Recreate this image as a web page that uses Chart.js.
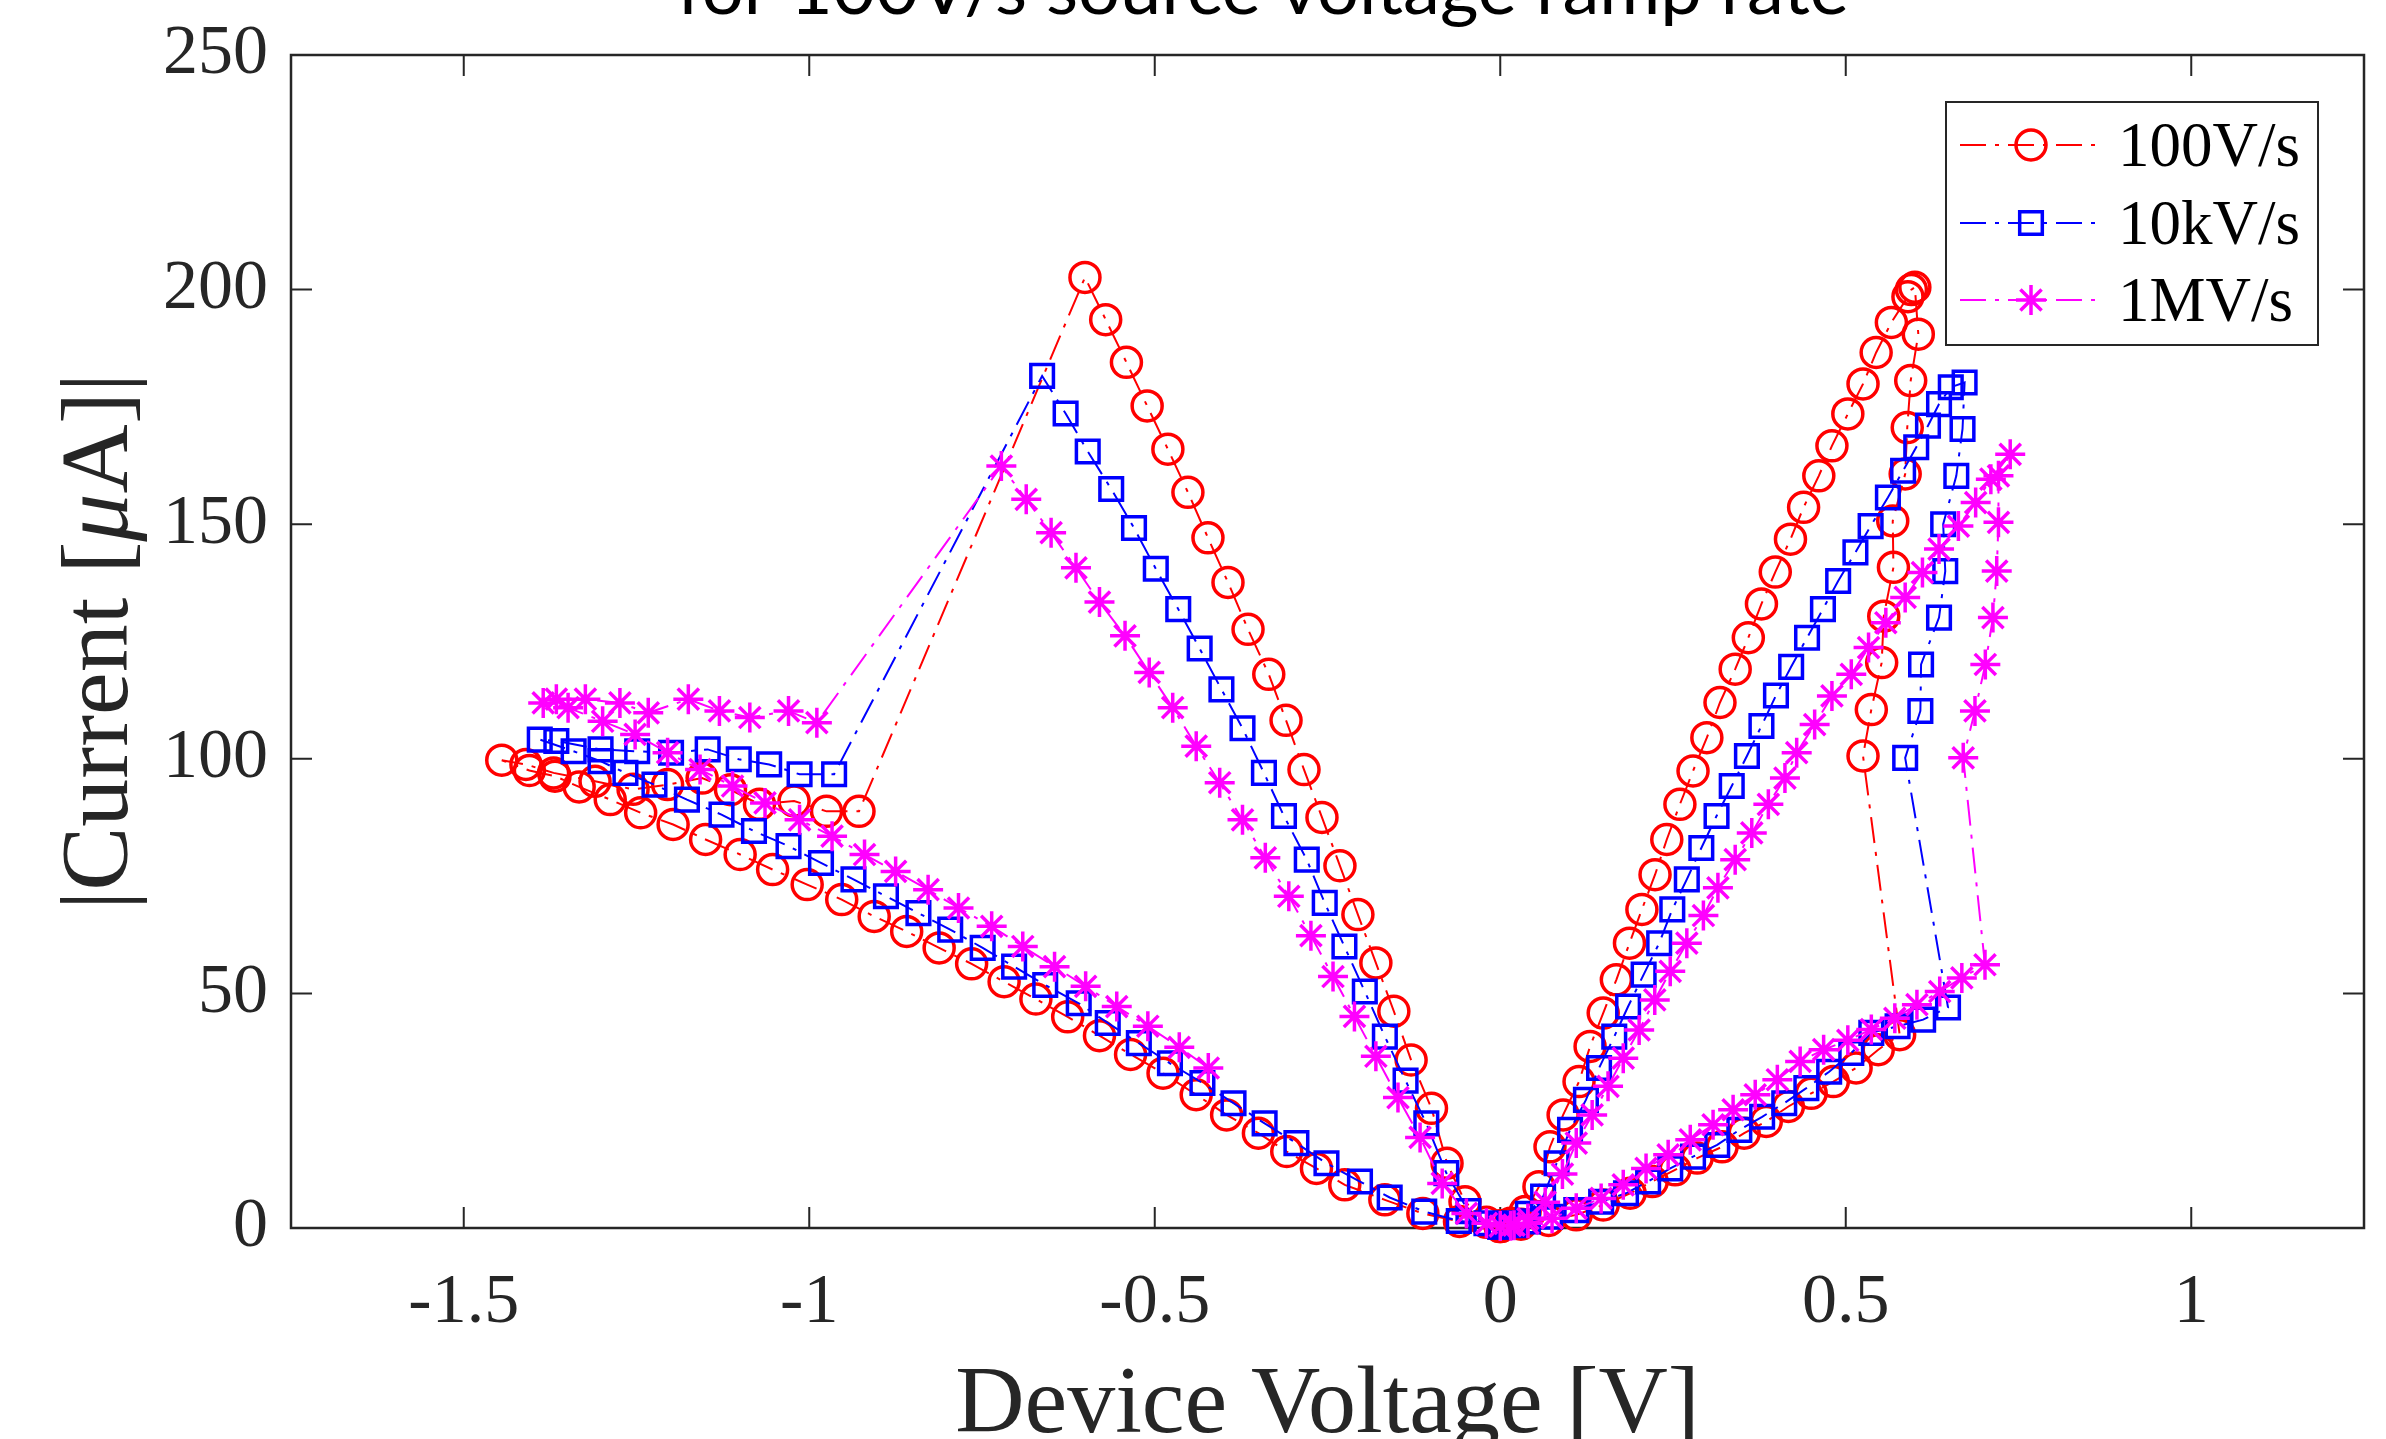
<!DOCTYPE html>
<html>
<head>
<meta charset="utf-8">
<script src="https://cdn.jsdelivr.net/npm/chart.js@4.4.0/dist/chart.umd.min.js"></script>
<style>
  html, body { margin: 0; padding: 0; background: #fff; }
  canvas { display: block; }
</style>
</head>
<body>
<canvas id="ivChart" width="2386" height="1439"></canvas>
<script>
// axis ticks
const xTicks = [-1.5, -1, -0.5, 0, 0.5, 1];
const xTickLabels = ['-1.5', '-1', '-0.5', '0', '0.5', '1'];
const yTicks = [0, 50, 100, 150, 200, 250];

const seriesLabels = ['100V/s', '10kV/s', '1MV/s'];

// 100V/s sweep: device voltage [V] and |current| [uA]
const v100 = [
  0, -0.059, -0.112, -0.167, -0.225, -0.266, -0.309, -0.35, -0.396, -0.44, -0.488, -0.535, -0.58, -0.626, -0.672, -0.718,
  -0.765, -0.812, -0.859, -0.906, -0.953, -1.003, -1.053, -1.1, -1.15, -1.197, -1.244, -1.288, -1.333, -1.368, -1.405, -1.445,
  -1.41, -1.37, -1.31, -1.255, -1.205, -1.155, -1.114, -1.072, -1.022, -0.975, -0.928,
  -0.601, -0.571, -0.541, -0.511, -0.481, -0.452, -0.423, -0.394, -0.365, -0.335, -0.31, -0.284, -0.258, -0.232, -0.206,
  -0.18, -0.154, -0.129, -0.0995, -0.077, -0.051, -0.02,
  0, 0.03, 0.07, 0.11, 0.149, 0.188, 0.22, 0.253, 0.285, 0.321, 0.353, 0.385, 0.417, 0.45, 0.482, 0.515, 0.547, 0.578,
  0.525, 0.537, 0.552, 0.555, 0.569, 0.568, 0.586, 0.589, 0.594, 0.605, 0.6, 0.595, 0.59,
  0.566, 0.544, 0.525, 0.503, 0.48, 0.461, 0.439, 0.42, 0.398, 0.378, 0.359, 0.34, 0.318, 0.299, 0.279, 0.26, 0.241,
  0.224, 0.205, 0.187, 0.168, 0.149, 0.13, 0.114, 0.091, 0.072, 0.056, 0.036, 0.015, 0
];
const i100 = [
  0.3, 1.4, 3.1, 6, 9.2, 12.7, 16.3, 20.2, 24.1, 28.4, 33, 37, 41, 45, 48.8, 52.5,
  56.3, 59.7, 63.2, 66.4, 70, 73.2, 76.4, 79.6, 82.8, 86, 88.5, 91.3, 94, 96.3, 97.5, 99.7,
  98.8, 97, 95.2, 93.5, 94.5, 95.9, 93.4, 90.3, 91, 88.8, 88.8,
  202.6, 193.6, 184.5, 175.2, 166, 156.8, 147.1, 137.6, 127.6, 118, 108.2, 97.7, 87.5, 77.2, 66.8,
  56.5, 46.2, 35.8, 25.5, 13.8, 5.6, 1.2,
  0.3, 0.8, 1.6, 2.8, 4.9, 7.4, 9.9, 12.4, 14.9, 17.3, 20.2, 22.7, 25.9, 28.7, 31.2, 34.1, 38, 41.2,
  100.6, 110.5, 120.5, 130.4, 140.8, 150.7, 160.7, 170.6, 180.6, 190.5, 200.5, 200, 198.5,
  193, 186.6, 179.9, 173.5, 166.7, 160.3, 153.6, 146.8, 139.8, 133, 125.8, 119.1, 112, 104.5, 97.4, 90.3, 82.8,
  75.3, 67.9, 60.7, 52.9, 45.8, 38.7, 31.2, 24.1, 17.3, 8.8, 3.5, 1, 0.5
];

// 10kV/s sweep
const v10k = [
  0, -0.06, -0.11, -0.16, -0.203, -0.2515, -0.295, -0.341, -0.386, -0.431, -0.478, -0.523, -0.568, -0.61, -0.6585, -0.7035,
  -0.749, -0.796, -0.842, -0.889, -0.936, -0.983, -1.03, -1.08, -1.127, -1.177, -1.224, -1.266, -1.302, -1.341, -1.39,
  -1.366, -1.302, -1.249, -1.2, -1.147, -1.102, -1.058, -1.014, -0.964,
  -0.663, -0.629, -0.597, -0.563, -0.53, -0.4985, -0.466, -0.435, -0.4035, -0.373, -0.342, -0.313, -0.28, -0.254, -0.2255,
  -0.196, -0.167, -0.137, -0.107, -0.078, -0.046, -0.02,
  0, 0.02, 0.04, 0.072, 0.11, 0.146, 0.182, 0.214, 0.246, 0.279, 0.314, 0.346, 0.379, 0.411, 0.443, 0.476, 0.508, 0.537,
  0.575, 0.612, 0.648,
  0.586, 0.608, 0.609, 0.635, 0.644, 0.641, 0.66, 0.669, 0.672, 0.652, 0.635, 0.619, 0.602, 0.583, 0.561, 0.536, 0.514,
  0.489, 0.467, 0.444, 0.421, 0.399, 0.378, 0.357, 0.335, 0.313, 0.291, 0.27, 0.249, 0.23, 0.2075, 0.185, 0.165, 0.143,
  0.124, 0.101, 0.0815, 0.062, 0.04, 0.02, 0
];
const i10k = [
  0.5, 1.5, 3.5, 6.5, 9.9, 13.8, 18.1, 22.3, 26.6, 30.9, 35.1, 39.4, 43.7, 47.9, 51.8, 55.7,
  59.7, 63.6, 67.1, 70.7, 74.3, 77.8, 81.4, 84.6, 88.1, 91.3, 94.5, 97, 99.5, 101.6, 104.1,
  103.8, 102, 101.6, 101.3, 102, 99.9, 98.8, 96.7, 96.7,
  181.6, 173.6, 165.5, 157.5, 149.2, 140.5, 131.9, 123.5, 114.8, 106.5, 97, 87.8, 78.5, 69.3, 60,
  50.4, 40.8, 31.4, 22.3, 11.7, 3.6, 1,
  0.3, 0.6, 1.4, 2.4, 3.8, 5.6, 7.4, 9.9, 12.7, 15.2, 17.7, 20.9, 23.7, 26.6, 29.8, 33.3, 37.3, 41.6,
  43, 44.4, 47,
  100.2, 110.2, 120.1, 130.1, 140, 150, 160.3, 170.3, 180.2, 179.2, 175.6, 171, 166.4, 161.4, 155.7, 149.6, 144,
  137.9, 131.9, 125.8, 119.6, 113.5, 107, 100.6, 94.2, 87.8, 81, 74.3, 67.9, 60.7, 54, 47.2, 40.8, 34.1,
  27.3, 20.9, 13.8, 6.7, 3, 1, 0.3
];

// 1MV/s sweep
const v1M = [
  -0.4225, -0.4645, -0.51, -0.555, -0.6, -0.645, -0.691, -0.736, -0.784, -0.828, -0.875, -0.92, -0.967, -1.014, -1.064,
  -1.111, -1.158, -1.205, -1.252, -1.299, -1.349, -1.385,
  -1.366, -1.324, -1.274, -1.233, -1.175, -1.13, -1.086, -1.03, -0.989,
  -0.722, -0.686, -0.65, -0.614, -0.58, -0.543, -0.508, -0.474, -0.44, -0.406, -0.373, -0.34, -0.306, -0.274, -0.242,
  -0.211, -0.18, -0.148, -0.116, -0.084, -0.049, -0.02,
  0, 0.02, 0.04, 0.075, 0.11, 0.146, 0.178, 0.211, 0.243, 0.275, 0.308, 0.337, 0.369, 0.401, 0.434, 0.468, 0.503, 0.537,
  0.571, 0.603, 0.636, 0.668, 0.7015,
  0.67, 0.687, 0.702, 0.713, 0.7185, 0.721, 0.721, 0.738, 0.71, 0.688, 0.663, 0.635, 0.611, 0.586, 0.558, 0.533, 0.508,
  0.48, 0.455, 0.429, 0.412, 0.388, 0.364, 0.34, 0.315, 0.294, 0.27, 0.246, 0.2236, 0.201, 0.178, 0.156, 0.133, 0.11,
  0.09, 0.065, 0.04, 0.015
];
const i1M = [
  34.1, 38.5, 43, 47.2, 51.5, 55.7, 60, 64.3, 68.2, 72.1, 76, 79.6, 83.5, 87, 90.6,
  94.2, 97.7, 101.3, 105.2, 108, 110.9, 111.9,
  112.7, 112.7, 111.9, 109.8, 112.7, 110.2, 108.8, 110.2, 107.7,
  162.4, 155.3, 148.2, 140.7, 133.4, 126.2, 118.4, 110.9, 102.7, 94.9, 87, 78.9, 70.7, 62.3, 53.6,
  45.1, 36.6, 27.8, 19.3, 9.5, 3.1, 1,
  0.4, 0.6, 1, 2.1, 4.2, 6.3, 9.2, 12.7, 15.6, 18.8, 22, 25.2, 28.4, 31.6, 35.5, 38, 40, 42.3,
  44.7, 47.6, 50.4, 53.3, 56.1,
  100.2, 110.2, 120.1, 130.1, 140, 150.4, 160.3, 164.9, 159.6, 154.6, 149.6, 144.7, 139.7, 134.4, 129, 123.7, 118,
  113.4, 107.3, 101.3, 95.9, 90.3, 84.2, 78.5, 72.5, 66.6, 60.7, 54.7, 48.6, 42.2, 36.2, 30.2, 24.1, 18.1,
  11.5, 5.5, 2, 0.5
];

const axisColor = '#262626';
const serif = "'Liberation Serif', 'Times New Roman', serif";
const dashDot = [26, 9, 4, 9];
const tickLen = 21;

const pts = (v, i) => v.map((x, k) => ({ x: x, y: i[k] }));

const styles = [
  { color: '#ff0000', pointStyle: 'circle', radius: 15 },
  { color: '#0000ff', pointStyle: 'rect', radius: 16 },
  { color: '#ff00ff', pointStyle: 'star', radius: 15 }
];

const series = [pts(v100, i100), pts(v10k, i10k), pts(v1M, i1M)];

const datasets = series.map((data, k) => ({
  label: seriesLabels[k],
  data: data,
  showLine: true,
  tension: 0,
  borderColor: styles[k].color,
  borderWidth: 2,
  borderDash: dashDot,
  pointStyle: styles[k].pointStyle,
  pointRadius: styles[k].radius,
  pointBorderWidth: 3.5,
  pointBorderColor: styles[k].color,
  pointBackgroundColor: 'rgba(0,0,0,0)',
  clip: false,
  order: 3 - k
}));

// box with inward ticks on all four sides
const framePlugin = {
  id: 'frame',
  beforeDatasetsDraw(chart) {
    const { ctx, chartArea: a, scales: { x, y } } = chart;
    ctx.save();
    ctx.strokeStyle = axisColor;
    ctx.lineWidth = 2.5;
    ctx.strokeRect(a.left, a.top, a.right - a.left, a.bottom - a.top);
    ctx.lineWidth = 2;
    ctx.beginPath();
    xTicks.forEach(v => {
      const px = x.getPixelForValue(v);
      ctx.moveTo(px, a.bottom); ctx.lineTo(px, a.bottom - tickLen);
      ctx.moveTo(px, a.top); ctx.lineTo(px, a.top + tickLen);
    });
    yTicks.forEach(v => {
      const py = y.getPixelForValue(v);
      ctx.moveTo(a.left, py); ctx.lineTo(a.left + tickLen, py);
      ctx.moveTo(a.right, py); ctx.lineTo(a.right - tickLen, py);
    });
    ctx.stroke();
    ctx.restore();
  }
};

// titles, axis labels and the legend box
const textPlugin = {
  id: 'texts',
  afterDraw(chart) {
    const { ctx, chartArea: a } = chart;
    ctx.save();

    // top title, cut off by the top edge
    ctx.fillStyle = '#000';
    ctx.font = '72px Lato, Carlito, sans-serif';
    ctx.textBaseline = 'alphabetic';
    ctx.textAlign = 'left';
    const title = 'for 100V/s source voltage ramp rate';
    const tw = ctx.measureText(title).width;
    const sx = 1172 / tw;
    ctx.save();
    ctx.translate(1263 - 586, 14);
    ctx.scale(sx, 1);
    ctx.fillText(title, 0, 0);
    ctx.restore();

    // x label
    ctx.fillStyle = axisColor;
    ctx.font = '96px ' + serif;
    ctx.textAlign = 'center';
    ctx.fillText('Device Voltage [V]', (a.left + a.right) / 2, 1432);

    // y label with italic mu
    const parts = [
      { t: '|Current [', f: '96px ' + serif },
      { t: '\u03bc', f: 'italic 96px ' + serif },
      { t: 'A]|', f: '96px ' + serif }
    ];
    let total = 0;
    parts.forEach(p => { ctx.font = p.f; p.w = ctx.measureText(p.t).width; total += p.w; });
    ctx.save();
    ctx.translate(127, (a.top + a.bottom) / 2);
    ctx.rotate(-Math.PI / 2);
    ctx.textAlign = 'left';
    let cx = -total / 2;
    parts.forEach(p => { ctx.font = p.f; ctx.fillText(p.t, cx, 0); cx += p.w; });
    ctx.restore();

    // legend
    const lx = 1946, ly = 102, lw = 372, lh = 243;
    ctx.fillStyle = '#fff';
    ctx.fillRect(lx, ly, lw, lh);
    ctx.strokeStyle = axisColor;
    ctx.lineWidth = 2;
    ctx.setLineDash([]);
    ctx.strokeRect(lx, ly, lw, lh);
    const rows = [145, 223, 300];
    rows.forEach((ry, k) => {
      const st = styles[k];
      ctx.strokeStyle = st.color;
      ctx.lineWidth = 2;
      ctx.setLineDash(dashDot);
      ctx.beginPath();
      ctx.moveTo(1960, ry);
      ctx.lineTo(2103, ry);
      ctx.stroke();
      ctx.setLineDash([]);
      ctx.lineWidth = 3.5;
      ctx.fillStyle = 'rgba(0,0,0,0)';
      Chart.helpers.drawPoint(ctx, { pointStyle: st.pointStyle, radius: st.radius, rotation: 0, borderWidth: 3.5 }, 2031, ry);
      ctx.fillStyle = '#000';
      ctx.font = '63px ' + serif;
      ctx.textAlign = 'left';
      ctx.textBaseline = 'alphabetic';
      ctx.fillText(seriesLabels[k], 2118, ry + 21);
    });

    ctx.restore();
  }
};

new Chart(document.getElementById('ivChart'), {
  type: 'scatter',
  data: { datasets: datasets },
  options: {
    responsive: false,
    animation: false,
    events: [],
    layout: { padding: { top: 55, right: 22, left: 0, bottom: 0 } },
    plugins: {
      legend: { display: false },
      tooltip: { enabled: false },
      title: { display: false }
    },
    scales: {
      x: {
        type: 'linear',
        min: -1.75,
        max: 1.25,
        grid: { display: false },
        border: { display: false },
        afterBuildTicks: (scale) => { scale.ticks = xTicks.map(v => ({ value: v })); },
        afterFit: (scale) => { scale.height = 211; scale.paddingLeft = 0; scale.paddingRight = 0; },
        ticks: {
          autoSkip: false,
          maxRotation: 0,
          padding: 26,
          color: axisColor,
          font: { family: serif, size: 70 },
          callback: (v) => xTickLabels[xTicks.indexOf(v)]
        }
      },
      y: {
        type: 'linear',
        min: 0,
        max: 250,
        grid: { display: false },
        border: { display: false },
        afterBuildTicks: (scale) => { scale.ticks = yTicks.map(v => ({ value: v })); },
        afterFit: (scale) => { scale.width = 291; scale.paddingTop = 0; scale.paddingBottom = 0; },
        ticks: {
          autoSkip: false,
          padding: 15,
          color: axisColor,
          font: { family: serif, size: 70 },
          callback: (v) => String(v)
        }
      }
    }
  },
  plugins: [framePlugin, textPlugin]
});
</script>
</body>
</html>
